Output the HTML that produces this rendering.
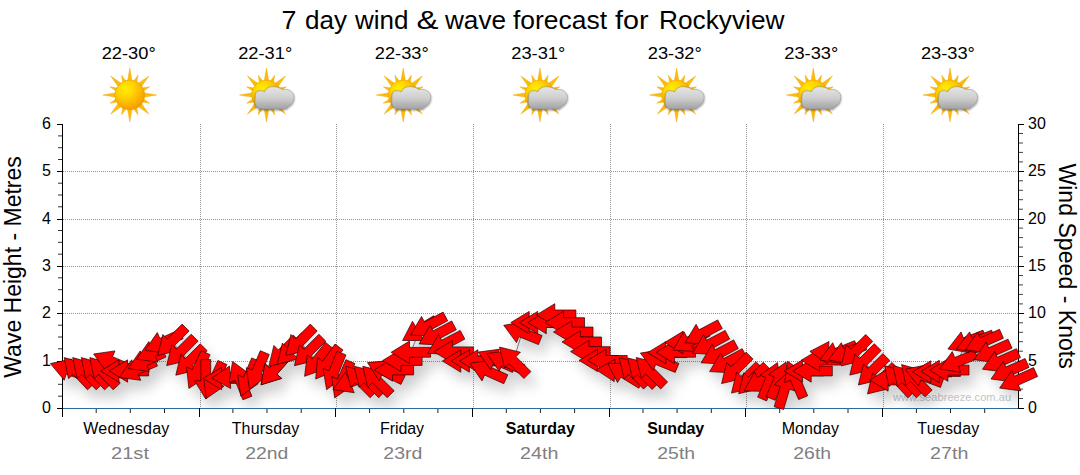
<!DOCTYPE html>
<html><head><meta charset="utf-8"><title>7 day wind &amp; wave forecast for Rockyview</title>
<style>
html,body{margin:0;padding:0;background:#fff;}
body{width:1080px;height:475px;overflow:hidden;position:relative;font-family:"Liberation Sans",sans-serif;}
svg{position:absolute;left:0;top:0;}
text{font-family:"Liberation Sans",sans-serif;}
</style></head><body>
<svg width="1080" height="475" viewBox="0 0 1080 475">
<defs>
<radialGradient id="sunG" cx="0.36" cy="0.30" r="0.72"><stop offset="0" stop-color="#fff000"/><stop offset="0.4" stop-color="#ffd200"/><stop offset="1" stop-color="#f89a00"/></radialGradient>
<linearGradient id="cloudG" x1="0" y1="0" x2="0" y2="1"><stop offset="0" stop-color="#e6e6e6"/><stop offset="0.5" stop-color="#cfcfcf"/><stop offset="1" stop-color="#a2a2a2"/></linearGradient>
<filter id="sh" x="-5%" y="-20%" width="110%" height="160%"><feGaussianBlur in="SourceAlpha" stdDeviation="6.5"/><feOffset dx="6" dy="10" result="b"/><feComponentTransfer><feFuncA type="linear" slope="0.2"/></feComponentTransfer></filter>
<filter id="csh" x="-20%" y="-20%" width="140%" height="160%"><feGaussianBlur in="SourceAlpha" stdDeviation="0.8"/><feOffset dx="0" dy="1"/><feComponentTransfer><feFuncA type="linear" slope="0.5"/></feComponentTransfer><feMerge><feMergeNode/><feMergeNode in="SourceGraphic"/></feMerge></filter>
<g id="sun"><path d="M-2.61 -12.23L0.00 -27.00L2.61 -12.23ZM2.64 -12.22L8.23 -19.86L6.77 -10.51ZM6.80 -10.49L19.09 -19.09L10.49 -6.80ZM10.51 -6.77L19.86 -8.23L12.22 -2.64ZM12.23 -2.61L27.00 0.00L12.23 2.61ZM12.22 2.64L19.86 8.23L10.51 6.77ZM10.49 6.80L19.09 19.09L6.80 10.49ZM6.77 10.51L8.23 19.86L2.64 12.22ZM2.61 12.23L0.00 27.00L-2.61 12.23ZM-2.64 12.22L-8.23 19.86L-6.77 10.51ZM-6.80 10.49L-19.09 19.09L-10.49 6.80ZM-10.51 6.77L-19.86 8.23L-12.22 2.64ZM-12.23 2.61L-27.00 0.00L-12.23 -2.61ZM-12.22 -2.64L-19.86 -8.23L-10.51 -6.77ZM-10.49 -6.80L-19.09 -19.09L-6.80 -10.49ZM-6.77 -10.51L-8.23 -19.86L-2.64 -12.22Z" fill="#fbbd0a"/><path d="M-2.61 -12.23L0.00 -27.00L2.61 -12.23ZM2.64 -12.22L8.23 -19.86L6.77 -10.51ZM6.80 -10.49L19.09 -19.09L10.49 -6.80ZM10.51 -6.77L19.86 -8.23L12.22 -2.64ZM12.23 -2.61L27.00 0.00L12.23 2.61ZM12.22 2.64L19.86 8.23L10.51 6.77ZM10.49 6.80L19.09 19.09L6.80 10.49ZM6.77 10.51L8.23 19.86L2.64 12.22ZM2.61 12.23L0.00 27.00L-2.61 12.23ZM-2.64 12.22L-8.23 19.86L-6.77 10.51ZM-6.80 10.49L-19.09 19.09L-10.49 6.80ZM-10.51 6.77L-19.86 8.23L-12.22 2.64ZM-12.23 2.61L-27.00 0.00L-12.23 -2.61ZM-12.22 -2.64L-19.86 -8.23L-10.51 -6.77ZM-10.49 -6.80L-19.09 -19.09L-6.80 -10.49ZM-6.77 -10.51L-8.23 -19.86L-2.64 -12.22Z" fill="none" stroke="#eda200" stroke-width="0.5" opacity="0.8"/><circle r="14.9" fill="url(#sunG)" stroke="#e89400" stroke-width="0.7" stroke-opacity="0.65"/></g>
<g id="cloud" filter="url(#csh)"><path d="M-11.8 11 C-15 11 -17.3 9.8 -18.3 7.5 C-19.2 5.5 -19.2 3.5 -19 1.7 L-18.8 -3 C-18.6 -5.8 -16.5 -7.4 -13.9 -7.3 C-12.2 -7.3 -10.8 -6.9 -9.8 -6.1 C-8.2 -9.3 -5 -11.4 -1.6 -11.3 C2.5 -11.3 6 -10.2 8 -8.4 C10.5 -9 13.3 -8.7 15.5 -7.6 C18.3 -6.2 20 -3.8 19.9 -1.1 C19.9 1.5 19.3 3.6 18.25 5.1 C17.5 6.4 16.3 7.3 14.8 7.8 C14 9.2 12.8 10.3 11.4 10.6 C10.5 10.9 9.5 11 8.5 11 Z" fill="url(#cloudG)" stroke="#8c8c8c" stroke-width="0.5"/></g>
<clipPath id="plotclip"><rect x="63" y="124" width="955" height="284"/></clipPath>
</defs>
<path d="M63 361.5H1018M63 313.5H1018M63 266.5H1018M63 219.5H1018M63 171.5H1018M200.5 124V408M336.5 124V408M473.5 124V408M610.5 124V408M746.5 124V408M883.5 124V408" stroke="#949494" stroke-width="1" stroke-dasharray="1 1" fill="none" shape-rendering="crispEdges"/>
<path d="M62 408.5H1019" stroke="#2f6b9a" stroke-width="1.1" fill="none"/>
<path d="M62.5 124V417M57 408.5H63M57 361.5H63M57 313.5H63M57 266.5H63M57 219.5H63M57 171.5H63M57 124.5H63" stroke="#000" stroke-width="1" fill="none"/>
<path d="M58 396.2H62M58 384.3H62M58 372.5H62M58 348.8H62M58 337.0H62M58 325.2H62M58 301.5H62M58 289.7H62M58 277.8H62M58 254.2H62M58 242.3H62M58 230.5H62M58 206.8H62M58 195.0H62M58 183.2H62M58 159.5H62M58 147.7H62M58 135.9H62" stroke="#333" stroke-width="1" fill="none"/>
<path d="M1018.5 124V409M1018 408.5H1024M1018 361.5H1024M1018 313.5H1024M1018 266.5H1024M1018 219.5H1024M1018 171.5H1024M1018 124.5H1024" stroke="#000" stroke-width="1" fill="none"/>
<path d="M1019 398.5H1023M1019 389.1H1023M1019 379.6H1023M1019 370.1H1023M1019 351.2H1023M1019 341.7H1023M1019 332.3H1023M1019 322.8H1023M1019 303.9H1023M1019 294.4H1023M1019 284.9H1023M1019 275.5H1023M1019 256.5H1023M1019 247.1H1023M1019 237.6H1023M1019 228.1H1023M1019 209.2H1023M1019 199.7H1023M1019 190.3H1023M1019 180.8H1023M1019 161.9H1023M1019 152.4H1023M1019 143.0H1023M1019 133.5H1023" stroke="#444" stroke-width="1" fill="none"/>
<path d="M199.5 408V417M335.5 408V417M472.5 408V417M609.5 408V417M745.5 408V417M882.5 408V417" stroke="#000" stroke-width="1" fill="none"/>
<path d="M96.2 409V413M130.3 409V413M164.5 409V413M232.9 409V413M267.0 409V413M301.2 409V413M369.6 409V413M403.8 409V413M437.9 409V413M506.3 409V413M540.4 409V413M574.6 409V413M643.0 409V413M677.1 409V413M711.3 409V413M779.7 409V413M813.8 409V413M848.0 409V413M916.4 409V413M950.5 409V413M984.7 409V413" stroke="#222" stroke-width="1" fill="none"/>
<text x="893" y="400.5" font-size="11" fill="#c4c4c4" textLength="118" lengthAdjust="spacing">www.seabreeze.com.au</text>
<g clip-path="url(#plotclip)"><g filter="url(#sh)"><polygon points="50.4,363.6 64.2,380.2 66.2,374.2 86.2,381.1 89.4,371.8 69.4,364.9 71.5,359.0"/><polygon points="64.2,357.6 68.5,378.7 73.1,374.4 87.5,389.8 94.7,383.1 80.3,367.7 84.9,363.4"/><polygon points="72.7,357.6 77.1,378.7 81.7,374.4 96.1,389.8 103.2,383.1 88.9,367.7 93.5,363.4"/><polygon points="81.3,357.6 85.6,378.7 90.2,374.4 104.6,389.8 111.8,383.1 97.4,367.7 102.0,363.4"/><polygon points="89.8,357.6 94.2,378.7 98.8,374.4 113.2,389.8 120.3,383.1 105.9,367.7 110.6,363.4"/><polygon points="93.6,354.0 106.2,371.5 108.7,365.7 128.1,373.9 131.9,364.9 112.5,356.7 115.0,350.9"/><polygon points="100.6,371.0 119.0,382.2 119.0,375.9 140.1,375.9 140.1,366.1 119.0,366.1 119.0,359.8"/><polygon points="109.2,371.0 127.6,382.2 127.6,375.9 148.7,375.9 148.7,366.1 127.6,366.1 127.6,359.8"/><polygon points="119.4,377.5 140.8,380.3 138.2,374.5 157.5,365.9 153.5,357.0 134.2,365.6 131.7,359.8"/><polygon points="128.0,368.6 149.3,371.4 146.8,365.6 166.0,357.0 162.0,348.1 142.8,356.7 140.2,350.9"/><polygon points="136.5,359.3 157.9,362.1 155.3,356.3 174.6,347.7 170.6,338.8 151.3,347.4 148.8,341.6"/><polygon points="145.0,350.3 166.4,353.1 163.8,347.3 183.1,338.7 179.1,329.8 159.9,338.4 157.3,332.6"/><polygon points="157.7,355.5 178.6,350.4 174.2,345.9 189.1,331.0 182.1,324.1 167.2,339.0 162.8,334.5"/><polygon points="166.7,365.6 187.7,360.5 183.2,356.0 198.1,341.1 191.2,334.2 176.3,349.1 171.8,344.6"/><polygon points="175.8,375.2 196.7,370.1 192.2,365.6 207.2,350.7 200.2,343.8 185.3,358.7 180.9,354.2"/><polygon points="188.9,388.4 206.9,376.5 201.2,373.8 210.1,354.7 201.2,350.5 192.3,369.7 186.6,367.0"/><polygon points="205.8,399.1 217.0,380.8 210.7,380.8 210.7,359.6 200.9,359.6 200.9,380.8 194.6,380.8"/><polygon points="206.3,398.5 224.0,386.3 218.3,383.7 226.9,364.5 217.9,360.5 209.3,379.7 203.6,377.2"/><polygon points="203.2,378.5 221.6,389.7 221.6,383.4 242.7,383.4 242.7,373.6 221.6,373.6 221.6,367.3"/><polygon points="211.7,378.2 230.7,388.5 230.4,382.2 251.4,381.1 250.9,371.3 229.8,372.4 229.5,366.1"/><polygon points="232.6,361.4 229.1,382.6 235.0,380.3 242.9,399.8 251.9,396.2 244.0,376.6 249.9,374.3"/><polygon points="240.8,396.2 258.3,383.6 252.5,381.2 260.8,361.7 251.7,357.9 243.5,377.3 237.7,374.9"/><polygon points="249.4,389.0 266.9,376.4 261.1,374.0 269.3,354.5 260.3,350.7 252.1,370.1 246.3,367.7"/><polygon points="261.0,384.8 281.6,378.4 276.9,374.3 290.9,358.5 283.6,352.0 269.6,367.8 264.9,363.6"/><polygon points="261.1,384.8 281.7,378.4 276.9,374.3 291.0,358.5 283.6,352.0 269.6,367.8 264.9,363.6"/><polygon points="268.8,366.4 289.7,361.3 285.2,356.8 300.2,341.9 293.2,335.0 278.3,349.9 273.9,345.4"/><polygon points="277.3,364.1 298.2,359.0 293.8,354.5 308.7,339.6 301.8,332.7 286.9,347.6 282.4,343.1"/><polygon points="285.8,355.5 306.8,350.4 302.3,345.9 317.2,331.0 310.3,324.1 295.4,339.0 290.9,334.5"/><polygon points="294.4,365.7 315.3,360.6 310.9,356.1 325.8,341.2 318.9,334.3 303.9,349.2 299.5,344.7"/><polygon points="304.6,376.3 324.8,368.9 319.9,365.0 333.0,348.4 325.4,342.3 312.2,358.9 307.3,354.9"/><polygon points="315.7,379.0 335.6,370.7 330.5,367.0 342.9,349.9 335.0,344.1 322.6,361.2 317.5,357.5"/><polygon points="326.6,389.7 343.9,376.8 338.0,374.5 345.9,354.9 336.9,351.3 329.0,370.8 323.1,368.5"/><polygon points="334.7,397.9 352.3,385.5 346.5,383.0 354.9,363.6 345.9,359.7 337.5,379.1 331.7,376.6"/><polygon points="332.9,389.6 354.2,392.7 351.8,386.9 371.2,378.7 367.4,369.7 347.9,377.9 345.5,372.1"/><polygon points="345.7,366.3 350.8,387.3 355.2,382.8 370.1,397.7 377.1,390.8 362.1,375.9 366.6,371.4"/><polygon points="354.2,366.3 359.3,387.3 363.8,382.8 378.7,397.7 385.6,390.8 370.7,375.9 375.1,371.4"/><polygon points="362.8,366.3 367.8,387.3 372.3,382.8 387.2,397.7 394.2,390.8 379.2,375.9 383.7,371.4"/><polygon points="367.5,362.6 379.1,380.8 381.9,375.1 400.9,384.4 405.2,375.6 386.2,366.3 389.0,360.6"/><polygon points="374.1,370.0 392.5,381.2 392.5,374.9 413.6,374.9 413.6,365.1 392.5,365.1 392.5,358.8"/><polygon points="382.6,360.5 401.0,371.7 401.0,365.4 422.1,365.4 422.1,355.6 401.0,355.6 401.0,349.3"/><polygon points="391.1,352.3 409.5,363.5 409.5,357.2 430.6,357.2 430.6,347.4 409.5,347.4 409.5,341.1"/><polygon points="402.6,340.5 424.1,340.5 420.8,335.1 438.9,324.1 433.7,315.7 415.7,326.7 412.5,321.3"/><polygon points="410.6,335.0 432.1,336.2 429.1,330.7 447.7,320.8 443.1,312.1 424.5,322.0 421.5,316.4"/><polygon points="419.1,343.9 440.6,345.1 437.6,339.6 456.3,329.7 451.7,321.0 433.0,330.9 430.1,325.3"/><polygon points="427.6,353.3 449.1,354.5 446.2,349.0 464.8,339.1 460.2,330.4 441.6,340.3 438.6,334.7"/><polygon points="433.9,351.8 452.3,363.0 452.3,356.7 473.4,356.7 473.4,346.9 452.3,346.9 452.3,340.6"/><polygon points="442.4,361.0 460.8,372.2 460.8,365.9 481.9,365.9 481.9,356.1 460.8,356.1 460.8,349.8"/><polygon points="451.0,361.0 469.4,372.2 469.4,365.9 490.5,365.9 490.5,356.1 469.4,356.1 469.4,349.8"/><polygon points="459.5,361.0 477.9,372.2 477.9,365.9 499.0,365.9 499.0,356.1 477.9,356.1 477.9,349.8"/><polygon points="469.8,363.2 482.0,380.9 484.6,375.1 503.8,383.7 507.8,374.8 488.6,366.2 491.1,360.4"/><polygon points="478.2,352.1 490.6,369.7 493.2,364.0 512.5,372.4 516.4,363.4 497.1,355.0 499.6,349.2"/><polygon points="486.8,353.6 499.2,371.2 501.7,365.5 521.0,373.9 525.0,364.9 505.6,356.5 508.1,350.7"/><polygon points="499.5,347.1 504.6,368.1 509.0,363.6 523.9,378.5 530.9,371.6 516.0,356.7 520.4,352.2"/><polygon points="503.7,325.3 516.5,342.6 518.9,336.7 538.5,344.6 542.1,335.6 522.6,327.7 524.9,321.8"/><polygon points="510.8,322.6 529.2,333.8 529.2,327.5 550.3,327.5 550.3,317.7 529.2,317.7 529.2,311.4"/><polygon points="519.3,322.6 537.7,333.8 537.7,327.5 558.8,327.5 558.8,317.7 537.7,317.7 537.7,311.4"/><polygon points="527.9,322.6 546.3,333.8 546.3,327.5 567.4,327.5 567.4,317.7 546.3,317.7 546.3,311.4"/><polygon points="536.4,314.9 554.8,326.1 554.8,319.8 575.9,319.8 575.9,310.0 554.8,310.0 554.8,303.7"/><polygon points="545.0,322.6 563.4,333.8 563.4,327.5 584.5,327.5 584.5,317.7 563.4,317.7 563.4,311.4"/><polygon points="553.5,332.0 571.9,343.2 571.9,336.9 593.0,336.9 593.0,327.1 571.9,327.1 571.9,320.8"/><polygon points="562.0,341.9 580.4,353.1 580.4,346.8 601.5,346.8 601.5,337.0 580.4,337.0 580.4,330.7"/><polygon points="570.6,351.6 589.0,362.8 589.0,356.5 610.1,356.5 610.1,346.7 589.0,346.7 589.0,340.4"/><polygon points="579.1,360.4 597.5,371.6 597.5,365.3 618.6,365.3 618.6,355.5 597.5,355.5 597.5,349.2"/><polygon points="587.7,360.4 606.1,371.6 606.1,365.3 627.2,365.3 627.2,355.5 606.1,355.5 606.1,349.2"/><polygon points="596.2,369.8 614.2,381.6 614.5,375.3 635.5,376.1 635.9,366.3 614.8,365.6 615.0,359.3"/><polygon points="607.7,363.4 617.5,382.5 620.8,377.2 638.8,388.2 643.9,379.9 625.9,368.8 629.2,363.5"/><polygon points="619.1,357.7 624.2,378.7 628.7,374.2 643.6,389.1 650.5,382.2 635.6,367.3 640.0,362.8"/><polygon points="627.7,358.0 632.7,379.0 637.2,374.5 652.1,389.4 659.1,382.5 644.1,367.6 648.6,363.1"/><polygon points="636.2,357.5 641.3,378.5 645.7,374.0 660.7,388.9 667.6,382.0 652.7,367.1 657.1,362.6"/><polygon points="640.4,353.1 653.3,370.4 655.6,364.5 675.2,372.4 678.9,363.4 659.3,355.5 661.7,349.6"/><polygon points="647.5,352.7 665.9,363.9 665.9,357.6 687.0,357.6 687.0,347.8 665.9,347.8 665.9,341.5"/><polygon points="656.0,352.3 674.4,363.5 674.4,357.2 695.5,357.2 695.5,347.4 674.4,347.4 674.4,341.1"/><polygon points="664.6,342.5 683.0,353.7 683.0,347.4 704.1,347.4 704.1,337.6 683.0,337.6 683.0,331.3"/><polygon points="672.9,350.2 694.4,351.4 691.5,345.9 710.1,336.0 705.5,327.3 686.9,337.2 683.9,331.6"/><polygon points="685.1,342.8 706.6,344.0 703.6,338.5 722.3,328.6 717.7,319.9 699.0,329.8 696.1,324.2"/><polygon points="692.5,353.3 714.0,354.5 711.1,349.0 729.7,339.1 725.1,330.4 706.5,340.3 703.5,334.7"/><polygon points="701.1,362.8 722.6,364.0 719.6,358.5 738.3,348.6 733.7,339.9 715.0,349.8 712.1,344.2"/><polygon points="709.6,371.6 731.1,372.8 728.2,367.3 746.8,357.4 742.2,348.7 723.6,358.6 720.6,353.0"/><polygon points="721.6,383.6 742.6,378.5 738.1,374.0 753.0,359.1 746.1,352.2 731.2,367.1 726.7,362.6"/><polygon points="731.5,393.1 752.4,388.0 748.0,383.5 762.9,368.6 756.0,361.7 741.0,376.6 736.6,372.1"/><polygon points="738.7,393.7 759.7,388.6 755.2,384.1 770.1,369.2 763.2,362.3 748.3,377.2 743.8,372.7"/><polygon points="744.1,390.9 765.7,391.4 762.5,385.9 780.8,375.4 775.9,366.9 757.6,377.4 754.5,372.0"/><polygon points="777.5,362.6 760.0,375.2 765.8,377.6 757.6,397.1 766.6,400.9 774.8,381.5 780.6,383.9"/><polygon points="786.1,362.0 768.6,374.6 774.4,377.0 766.1,396.5 775.1,400.3 783.4,380.9 789.2,383.3"/><polygon points="790.1,370.3 774.1,384.7 780.2,386.5 774.2,406.7 783.6,409.5 789.6,389.3 795.6,391.1"/><polygon points="787.7,361.3 784.6,382.6 790.4,380.2 798.6,399.6 807.7,395.8 799.4,376.3 805.2,373.9"/><polygon points="784.2,371.0 802.6,382.2 802.6,375.9 823.7,375.9 823.7,366.1 802.6,366.1 802.6,359.8"/><polygon points="792.8,371.0 811.2,382.2 811.2,375.9 832.3,375.9 832.3,366.1 811.2,366.1 811.2,359.8"/><polygon points="801.3,360.2 819.7,371.4 819.7,365.1 840.8,365.1 840.8,355.3 819.7,355.3 819.7,349.0"/><polygon points="809.9,351.4 827.5,363.9 827.9,357.6 849.0,359.1 849.7,349.3 828.6,347.8 829.0,341.5"/><polygon points="819.8,360.0 841.1,363.5 838.7,357.6 858.3,349.7 854.6,340.7 835.1,348.6 832.7,342.7"/><polygon points="828.4,360.0 849.6,363.5 847.3,357.6 866.8,349.7 863.2,340.7 843.6,348.6 841.3,342.7"/><polygon points="841.3,365.9 862.2,360.8 857.8,356.3 872.7,341.4 865.7,334.5 850.8,349.4 846.4,344.9"/><polygon points="849.8,375.1 870.7,370.0 866.3,365.5 881.2,350.6 874.3,343.7 859.4,358.6 854.9,354.1"/><polygon points="858.4,385.0 879.3,379.9 874.8,375.4 889.8,360.5 882.8,353.6 867.9,368.5 863.5,364.0"/><polygon points="867.5,393.9 888.4,388.8 884.0,384.3 898.9,369.4 892.0,362.5 877.1,377.4 872.6,372.9"/><polygon points="869.7,380.0 888.1,391.2 888.1,384.9 909.2,384.9 909.2,375.1 888.1,375.1 888.1,368.8"/><polygon points="884.5,365.6 888.9,386.7 893.5,382.4 907.9,397.8 915.0,391.1 900.6,375.7 905.2,371.4"/><polygon points="893.0,365.6 897.4,386.7 902.0,382.4 916.4,397.8 923.6,391.1 909.2,375.7 913.8,371.4"/><polygon points="901.6,364.6 905.9,385.7 910.6,381.4 924.9,396.8 932.1,390.1 917.7,374.7 922.3,370.4"/><polygon points="905.0,369.2 918.5,386.1 920.7,380.1 940.5,387.4 943.8,378.2 924.0,370.9 926.2,365.0"/><polygon points="912.4,372.0 930.8,383.2 930.8,376.9 951.9,376.9 951.9,367.1 930.8,367.1 930.8,360.8"/><polygon points="920.9,371.5 939.3,382.7 939.3,376.4 960.4,376.4 960.4,366.6 939.3,366.6 939.3,360.3"/><polygon points="929.5,370.1 947.9,381.3 947.9,375.0 969.0,375.0 969.0,365.2 947.9,365.2 947.9,358.9"/><polygon points="939.5,368.9 960.7,372.4 958.4,366.5 977.9,358.6 974.3,349.6 954.7,357.5 952.3,351.6"/><polygon points="947.9,349.0 969.1,352.8 966.8,347.0 986.5,339.4 983.0,330.2 963.3,337.8 961.1,331.9"/><polygon points="956.4,349.0 977.6,352.8 975.4,347.0 995.1,339.4 991.6,330.2 971.9,337.8 969.6,331.9"/><polygon points="965.4,349.8 986.7,352.6 984.2,346.8 1003.4,338.2 999.5,329.3 980.2,337.9 977.6,332.1"/><polygon points="973.9,359.7 995.3,362.5 992.7,356.7 1012.0,348.1 1008.0,339.2 988.7,347.8 986.2,342.0"/><polygon points="982.5,369.2 1003.8,372.0 1001.3,366.2 1020.5,357.6 1016.5,348.7 997.3,357.3 994.7,351.5"/><polygon points="991.0,379.0 1012.4,381.8 1009.8,376.0 1029.1,367.4 1025.1,358.5 1005.8,367.1 1003.3,361.3"/><polygon points="999.6,388.1 1020.9,390.9 1018.4,385.1 1037.6,376.5 1033.6,367.6 1014.4,376.2 1011.8,370.4"/></g></g>
<path d="M69.1 370.0L77.6 372.0L86.2 372.0L94.7 372.0L103.3 372.0L111.8 361.7L120.4 371.0L128.9 371.0L137.5 369.5L146.0 360.6L154.6 351.3L163.1 342.3L171.6 341.5L180.7 351.6L189.7 361.2L197.3 370.5L205.8 379.4L214.4 380.5L222.9 378.5L231.4 377.2L240.0 379.7L248.5 378.0L257.1 370.8L274.1 370.0L274.2 370.0L282.7 352.4L291.3 350.1L299.8 341.5L308.4 351.7L316.9 360.9L327.4 363.0L334.0 371.4L342.5 379.8L351.1 381.9L359.6 380.3L368.2 380.3L376.7 380.3L385.3 371.3L393.8 370.0L402.4 360.5L410.9 352.3L419.4 330.2L428.0 325.7L436.5 334.6L445.1 344.0L453.6 351.8L462.2 361.0L470.7 361.0L479.3 361.0L487.8 371.2L496.4 360.0L504.9 361.5L513.4 361.1L522.0 332.7L530.5 322.6L539.1 322.6L547.6 322.6L556.2 314.9L564.7 322.6L573.2 332.0L581.8 341.9L590.4 351.6L598.9 360.4L607.4 360.4L616.0 370.5L624.5 373.7L633.1 371.7L641.6 372.0L650.2 371.5L658.7 360.5L667.2 352.7L675.8 352.3L684.3 342.5L690.4 340.9L702.5 333.5L710.0 344.0L718.5 353.5L727.1 362.3L735.6 369.6L745.5 379.1L752.7 379.7L761.2 381.0L769.8 380.8L778.3 380.2L784.5 389.2L795.4 379.5L804.0 371.0L812.5 371.0L821.1 360.2L829.6 352.8L838.1 352.6L846.7 352.6L855.2 351.9L863.8 361.1L872.3 371.0L881.5 379.9L889.4 380.0L898.0 380.0L906.5 380.0L915.1 379.0L923.6 376.0L932.1 372.0L940.7 371.5L949.2 370.1L957.8 361.5L966.3 341.9L974.9 341.9L983.4 341.8L992.0 351.7L1000.5 361.2L1009.0 371.0L1017.6 380.1" stroke="#777" stroke-width="1" fill="none"/>
<g fill="#ff0000" stroke="#2a0000" stroke-width="0.7" stroke-linejoin="miter"><polygon points="50.4,363.6 64.2,380.2 66.2,374.2 86.2,381.1 89.4,371.8 69.4,364.9 71.5,359.0"/><polygon points="64.2,357.6 68.5,378.7 73.1,374.4 87.5,389.8 94.7,383.1 80.3,367.7 84.9,363.4"/><polygon points="72.7,357.6 77.1,378.7 81.7,374.4 96.1,389.8 103.2,383.1 88.9,367.7 93.5,363.4"/><polygon points="81.3,357.6 85.6,378.7 90.2,374.4 104.6,389.8 111.8,383.1 97.4,367.7 102.0,363.4"/><polygon points="89.8,357.6 94.2,378.7 98.8,374.4 113.2,389.8 120.3,383.1 105.9,367.7 110.6,363.4"/><polygon points="93.6,354.0 106.2,371.5 108.7,365.7 128.1,373.9 131.9,364.9 112.5,356.7 115.0,350.9"/><polygon points="100.6,371.0 119.0,382.2 119.0,375.9 140.1,375.9 140.1,366.1 119.0,366.1 119.0,359.8"/><polygon points="109.2,371.0 127.6,382.2 127.6,375.9 148.7,375.9 148.7,366.1 127.6,366.1 127.6,359.8"/><polygon points="119.4,377.5 140.8,380.3 138.2,374.5 157.5,365.9 153.5,357.0 134.2,365.6 131.7,359.8"/><polygon points="128.0,368.6 149.3,371.4 146.8,365.6 166.0,357.0 162.0,348.1 142.8,356.7 140.2,350.9"/><polygon points="136.5,359.3 157.9,362.1 155.3,356.3 174.6,347.7 170.6,338.8 151.3,347.4 148.8,341.6"/><polygon points="145.0,350.3 166.4,353.1 163.8,347.3 183.1,338.7 179.1,329.8 159.9,338.4 157.3,332.6"/><polygon points="157.7,355.5 178.6,350.4 174.2,345.9 189.1,331.0 182.1,324.1 167.2,339.0 162.8,334.5"/><polygon points="166.7,365.6 187.7,360.5 183.2,356.0 198.1,341.1 191.2,334.2 176.3,349.1 171.8,344.6"/><polygon points="175.8,375.2 196.7,370.1 192.2,365.6 207.2,350.7 200.2,343.8 185.3,358.7 180.9,354.2"/><polygon points="188.9,388.4 206.9,376.5 201.2,373.8 210.1,354.7 201.2,350.5 192.3,369.7 186.6,367.0"/><polygon points="205.8,399.1 217.0,380.8 210.7,380.8 210.7,359.6 200.9,359.6 200.9,380.8 194.6,380.8"/><polygon points="206.3,398.5 224.0,386.3 218.3,383.7 226.9,364.5 217.9,360.5 209.3,379.7 203.6,377.2"/><polygon points="203.2,378.5 221.6,389.7 221.6,383.4 242.7,383.4 242.7,373.6 221.6,373.6 221.6,367.3"/><polygon points="211.7,378.2 230.7,388.5 230.4,382.2 251.4,381.1 250.9,371.3 229.8,372.4 229.5,366.1"/><polygon points="232.6,361.4 229.1,382.6 235.0,380.3 242.9,399.8 251.9,396.2 244.0,376.6 249.9,374.3"/><polygon points="240.8,396.2 258.3,383.6 252.5,381.2 260.8,361.7 251.7,357.9 243.5,377.3 237.7,374.9"/><polygon points="249.4,389.0 266.9,376.4 261.1,374.0 269.3,354.5 260.3,350.7 252.1,370.1 246.3,367.7"/><polygon points="261.0,384.8 281.6,378.4 276.9,374.3 290.9,358.5 283.6,352.0 269.6,367.8 264.9,363.6"/><polygon points="261.1,384.8 281.7,378.4 276.9,374.3 291.0,358.5 283.6,352.0 269.6,367.8 264.9,363.6"/><polygon points="268.8,366.4 289.7,361.3 285.2,356.8 300.2,341.9 293.2,335.0 278.3,349.9 273.9,345.4"/><polygon points="277.3,364.1 298.2,359.0 293.8,354.5 308.7,339.6 301.8,332.7 286.9,347.6 282.4,343.1"/><polygon points="285.8,355.5 306.8,350.4 302.3,345.9 317.2,331.0 310.3,324.1 295.4,339.0 290.9,334.5"/><polygon points="294.4,365.7 315.3,360.6 310.9,356.1 325.8,341.2 318.9,334.3 303.9,349.2 299.5,344.7"/><polygon points="304.6,376.3 324.8,368.9 319.9,365.0 333.0,348.4 325.4,342.3 312.2,358.9 307.3,354.9"/><polygon points="315.7,379.0 335.6,370.7 330.5,367.0 342.9,349.9 335.0,344.1 322.6,361.2 317.5,357.5"/><polygon points="326.6,389.7 343.9,376.8 338.0,374.5 345.9,354.9 336.9,351.3 329.0,370.8 323.1,368.5"/><polygon points="334.7,397.9 352.3,385.5 346.5,383.0 354.9,363.6 345.9,359.7 337.5,379.1 331.7,376.6"/><polygon points="332.9,389.6 354.2,392.7 351.8,386.9 371.2,378.7 367.4,369.7 347.9,377.9 345.5,372.1"/><polygon points="345.7,366.3 350.8,387.3 355.2,382.8 370.1,397.7 377.1,390.8 362.1,375.9 366.6,371.4"/><polygon points="354.2,366.3 359.3,387.3 363.8,382.8 378.7,397.7 385.6,390.8 370.7,375.9 375.1,371.4"/><polygon points="362.8,366.3 367.8,387.3 372.3,382.8 387.2,397.7 394.2,390.8 379.2,375.9 383.7,371.4"/><polygon points="367.5,362.6 379.1,380.8 381.9,375.1 400.9,384.4 405.2,375.6 386.2,366.3 389.0,360.6"/><polygon points="374.1,370.0 392.5,381.2 392.5,374.9 413.6,374.9 413.6,365.1 392.5,365.1 392.5,358.8"/><polygon points="382.6,360.5 401.0,371.7 401.0,365.4 422.1,365.4 422.1,355.6 401.0,355.6 401.0,349.3"/><polygon points="391.1,352.3 409.5,363.5 409.5,357.2 430.6,357.2 430.6,347.4 409.5,347.4 409.5,341.1"/><polygon points="402.6,340.5 424.1,340.5 420.8,335.1 438.9,324.1 433.7,315.7 415.7,326.7 412.5,321.3"/><polygon points="410.6,335.0 432.1,336.2 429.1,330.7 447.7,320.8 443.1,312.1 424.5,322.0 421.5,316.4"/><polygon points="419.1,343.9 440.6,345.1 437.6,339.6 456.3,329.7 451.7,321.0 433.0,330.9 430.1,325.3"/><polygon points="427.6,353.3 449.1,354.5 446.2,349.0 464.8,339.1 460.2,330.4 441.6,340.3 438.6,334.7"/><polygon points="433.9,351.8 452.3,363.0 452.3,356.7 473.4,356.7 473.4,346.9 452.3,346.9 452.3,340.6"/><polygon points="442.4,361.0 460.8,372.2 460.8,365.9 481.9,365.9 481.9,356.1 460.8,356.1 460.8,349.8"/><polygon points="451.0,361.0 469.4,372.2 469.4,365.9 490.5,365.9 490.5,356.1 469.4,356.1 469.4,349.8"/><polygon points="459.5,361.0 477.9,372.2 477.9,365.9 499.0,365.9 499.0,356.1 477.9,356.1 477.9,349.8"/><polygon points="469.8,363.2 482.0,380.9 484.6,375.1 503.8,383.7 507.8,374.8 488.6,366.2 491.1,360.4"/><polygon points="478.2,352.1 490.6,369.7 493.2,364.0 512.5,372.4 516.4,363.4 497.1,355.0 499.6,349.2"/><polygon points="486.8,353.6 499.2,371.2 501.7,365.5 521.0,373.9 525.0,364.9 505.6,356.5 508.1,350.7"/><polygon points="499.5,347.1 504.6,368.1 509.0,363.6 523.9,378.5 530.9,371.6 516.0,356.7 520.4,352.2"/><polygon points="503.7,325.3 516.5,342.6 518.9,336.7 538.5,344.6 542.1,335.6 522.6,327.7 524.9,321.8"/><polygon points="510.8,322.6 529.2,333.8 529.2,327.5 550.3,327.5 550.3,317.7 529.2,317.7 529.2,311.4"/><polygon points="519.3,322.6 537.7,333.8 537.7,327.5 558.8,327.5 558.8,317.7 537.7,317.7 537.7,311.4"/><polygon points="527.9,322.6 546.3,333.8 546.3,327.5 567.4,327.5 567.4,317.7 546.3,317.7 546.3,311.4"/><polygon points="536.4,314.9 554.8,326.1 554.8,319.8 575.9,319.8 575.9,310.0 554.8,310.0 554.8,303.7"/><polygon points="545.0,322.6 563.4,333.8 563.4,327.5 584.5,327.5 584.5,317.7 563.4,317.7 563.4,311.4"/><polygon points="553.5,332.0 571.9,343.2 571.9,336.9 593.0,336.9 593.0,327.1 571.9,327.1 571.9,320.8"/><polygon points="562.0,341.9 580.4,353.1 580.4,346.8 601.5,346.8 601.5,337.0 580.4,337.0 580.4,330.7"/><polygon points="570.6,351.6 589.0,362.8 589.0,356.5 610.1,356.5 610.1,346.7 589.0,346.7 589.0,340.4"/><polygon points="579.1,360.4 597.5,371.6 597.5,365.3 618.6,365.3 618.6,355.5 597.5,355.5 597.5,349.2"/><polygon points="587.7,360.4 606.1,371.6 606.1,365.3 627.2,365.3 627.2,355.5 606.1,355.5 606.1,349.2"/><polygon points="596.2,369.8 614.2,381.6 614.5,375.3 635.5,376.1 635.9,366.3 614.8,365.6 615.0,359.3"/><polygon points="607.7,363.4 617.5,382.5 620.8,377.2 638.8,388.2 643.9,379.9 625.9,368.8 629.2,363.5"/><polygon points="619.1,357.7 624.2,378.7 628.7,374.2 643.6,389.1 650.5,382.2 635.6,367.3 640.0,362.8"/><polygon points="627.7,358.0 632.7,379.0 637.2,374.5 652.1,389.4 659.1,382.5 644.1,367.6 648.6,363.1"/><polygon points="636.2,357.5 641.3,378.5 645.7,374.0 660.7,388.9 667.6,382.0 652.7,367.1 657.1,362.6"/><polygon points="640.4,353.1 653.3,370.4 655.6,364.5 675.2,372.4 678.9,363.4 659.3,355.5 661.7,349.6"/><polygon points="647.5,352.7 665.9,363.9 665.9,357.6 687.0,357.6 687.0,347.8 665.9,347.8 665.9,341.5"/><polygon points="656.0,352.3 674.4,363.5 674.4,357.2 695.5,357.2 695.5,347.4 674.4,347.4 674.4,341.1"/><polygon points="664.6,342.5 683.0,353.7 683.0,347.4 704.1,347.4 704.1,337.6 683.0,337.6 683.0,331.3"/><polygon points="672.9,350.2 694.4,351.4 691.5,345.9 710.1,336.0 705.5,327.3 686.9,337.2 683.9,331.6"/><polygon points="685.1,342.8 706.6,344.0 703.6,338.5 722.3,328.6 717.7,319.9 699.0,329.8 696.1,324.2"/><polygon points="692.5,353.3 714.0,354.5 711.1,349.0 729.7,339.1 725.1,330.4 706.5,340.3 703.5,334.7"/><polygon points="701.1,362.8 722.6,364.0 719.6,358.5 738.3,348.6 733.7,339.9 715.0,349.8 712.1,344.2"/><polygon points="709.6,371.6 731.1,372.8 728.2,367.3 746.8,357.4 742.2,348.7 723.6,358.6 720.6,353.0"/><polygon points="721.6,383.6 742.6,378.5 738.1,374.0 753.0,359.1 746.1,352.2 731.2,367.1 726.7,362.6"/><polygon points="731.5,393.1 752.4,388.0 748.0,383.5 762.9,368.6 756.0,361.7 741.0,376.6 736.6,372.1"/><polygon points="738.7,393.7 759.7,388.6 755.2,384.1 770.1,369.2 763.2,362.3 748.3,377.2 743.8,372.7"/><polygon points="744.1,390.9 765.7,391.4 762.5,385.9 780.8,375.4 775.9,366.9 757.6,377.4 754.5,372.0"/><polygon points="777.5,362.6 760.0,375.2 765.8,377.6 757.6,397.1 766.6,400.9 774.8,381.5 780.6,383.9"/><polygon points="786.1,362.0 768.6,374.6 774.4,377.0 766.1,396.5 775.1,400.3 783.4,380.9 789.2,383.3"/><polygon points="790.1,370.3 774.1,384.7 780.2,386.5 774.2,406.7 783.6,409.5 789.6,389.3 795.6,391.1"/><polygon points="787.7,361.3 784.6,382.6 790.4,380.2 798.6,399.6 807.7,395.8 799.4,376.3 805.2,373.9"/><polygon points="784.2,371.0 802.6,382.2 802.6,375.9 823.7,375.9 823.7,366.1 802.6,366.1 802.6,359.8"/><polygon points="792.8,371.0 811.2,382.2 811.2,375.9 832.3,375.9 832.3,366.1 811.2,366.1 811.2,359.8"/><polygon points="801.3,360.2 819.7,371.4 819.7,365.1 840.8,365.1 840.8,355.3 819.7,355.3 819.7,349.0"/><polygon points="809.9,351.4 827.5,363.9 827.9,357.6 849.0,359.1 849.7,349.3 828.6,347.8 829.0,341.5"/><polygon points="819.8,360.0 841.1,363.5 838.7,357.6 858.3,349.7 854.6,340.7 835.1,348.6 832.7,342.7"/><polygon points="828.4,360.0 849.6,363.5 847.3,357.6 866.8,349.7 863.2,340.7 843.6,348.6 841.3,342.7"/><polygon points="841.3,365.9 862.2,360.8 857.8,356.3 872.7,341.4 865.7,334.5 850.8,349.4 846.4,344.9"/><polygon points="849.8,375.1 870.7,370.0 866.3,365.5 881.2,350.6 874.3,343.7 859.4,358.6 854.9,354.1"/><polygon points="858.4,385.0 879.3,379.9 874.8,375.4 889.8,360.5 882.8,353.6 867.9,368.5 863.5,364.0"/><polygon points="867.5,393.9 888.4,388.8 884.0,384.3 898.9,369.4 892.0,362.5 877.1,377.4 872.6,372.9"/><polygon points="869.7,380.0 888.1,391.2 888.1,384.9 909.2,384.9 909.2,375.1 888.1,375.1 888.1,368.8"/><polygon points="884.5,365.6 888.9,386.7 893.5,382.4 907.9,397.8 915.0,391.1 900.6,375.7 905.2,371.4"/><polygon points="893.0,365.6 897.4,386.7 902.0,382.4 916.4,397.8 923.6,391.1 909.2,375.7 913.8,371.4"/><polygon points="901.6,364.6 905.9,385.7 910.6,381.4 924.9,396.8 932.1,390.1 917.7,374.7 922.3,370.4"/><polygon points="905.0,369.2 918.5,386.1 920.7,380.1 940.5,387.4 943.8,378.2 924.0,370.9 926.2,365.0"/><polygon points="912.4,372.0 930.8,383.2 930.8,376.9 951.9,376.9 951.9,367.1 930.8,367.1 930.8,360.8"/><polygon points="920.9,371.5 939.3,382.7 939.3,376.4 960.4,376.4 960.4,366.6 939.3,366.6 939.3,360.3"/><polygon points="929.5,370.1 947.9,381.3 947.9,375.0 969.0,375.0 969.0,365.2 947.9,365.2 947.9,358.9"/><polygon points="939.5,368.9 960.7,372.4 958.4,366.5 977.9,358.6 974.3,349.6 954.7,357.5 952.3,351.6"/><polygon points="947.9,349.0 969.1,352.8 966.8,347.0 986.5,339.4 983.0,330.2 963.3,337.8 961.1,331.9"/><polygon points="956.4,349.0 977.6,352.8 975.4,347.0 995.1,339.4 991.6,330.2 971.9,337.8 969.6,331.9"/><polygon points="965.4,349.8 986.7,352.6 984.2,346.8 1003.4,338.2 999.5,329.3 980.2,337.9 977.6,332.1"/><polygon points="973.9,359.7 995.3,362.5 992.7,356.7 1012.0,348.1 1008.0,339.2 988.7,347.8 986.2,342.0"/><polygon points="982.5,369.2 1003.8,372.0 1001.3,366.2 1020.5,357.6 1016.5,348.7 997.3,357.3 994.7,351.5"/><polygon points="991.0,379.0 1012.4,381.8 1009.8,376.0 1029.1,367.4 1025.1,358.5 1005.8,367.1 1003.3,361.3"/><polygon points="999.6,388.1 1020.9,390.9 1018.4,385.1 1037.6,376.5 1033.6,367.6 1014.4,376.2 1011.8,370.4"/></g>
<text x="51" y="413.0" font-size="16" text-anchor="end" fill="#000">0</text>
<text x="1028" y="413.0" font-size="16" text-anchor="start" fill="#000">0</text>
<text x="51" y="365.7" font-size="16" text-anchor="end" fill="#000">1</text>
<text x="1028" y="365.7" font-size="16" text-anchor="start" fill="#000">5</text>
<text x="51" y="318.3" font-size="16" text-anchor="end" fill="#000">2</text>
<text x="1028" y="318.3" font-size="16" text-anchor="start" fill="#000">10</text>
<text x="51" y="271.0" font-size="16" text-anchor="end" fill="#000">3</text>
<text x="1028" y="271.0" font-size="16" text-anchor="start" fill="#000">15</text>
<text x="51" y="223.7" font-size="16" text-anchor="end" fill="#000">4</text>
<text x="1028" y="223.7" font-size="16" text-anchor="start" fill="#000">20</text>
<text x="51" y="176.4" font-size="16" text-anchor="end" fill="#000">5</text>
<text x="1028" y="176.4" font-size="16" text-anchor="start" fill="#000">25</text>
<text x="51" y="129.0" font-size="16" text-anchor="end" fill="#000">6</text>
<text x="1028" y="129.0" font-size="16" text-anchor="start" fill="#000">30</text>
<text transform="translate(20.5 267) rotate(-90)" font-size="23" text-anchor="middle" fill="#000">Wave Height - Metres</text>
<text transform="translate(1058.9 266.1) rotate(90)" font-size="23.1" text-anchor="middle" fill="#000">Wind Speed - Knots</text>
<text x="281.5" y="29" font-size="26.5" fill="#000" textLength="15" lengthAdjust="spacingAndGlyphs">7</text>
<text x="305" y="29" font-size="26.5" fill="#000" textLength="42" lengthAdjust="spacingAndGlyphs">day</text>
<text x="355" y="29" font-size="26.5" fill="#000" textLength="53.5" lengthAdjust="spacingAndGlyphs">wind</text>
<text x="416.5" y="29" font-size="26.5" fill="#000" textLength="22" lengthAdjust="spacingAndGlyphs">&amp;</text>
<text x="445" y="29" font-size="26.5" fill="#000" textLength="61" lengthAdjust="spacingAndGlyphs">wave</text>
<text x="513" y="29" font-size="26.5" fill="#000" textLength="94" lengthAdjust="spacingAndGlyphs">forecast</text>
<text x="615" y="29" font-size="26.5" fill="#000" textLength="33.5" lengthAdjust="spacingAndGlyphs">for</text>
<text x="659" y="29" font-size="26.5" fill="#000" textLength="125.5" lengthAdjust="spacingAndGlyphs">Rockyview</text>
<text x="126.3" y="434.3" font-size="16" text-anchor="middle" fill="#000" textLength="86" lengthAdjust="spacing">Wednesday</text>
<text x="130.0" y="458.6" font-size="17.3" text-anchor="middle" fill="#808080" textLength="38" lengthAdjust="spacingAndGlyphs">21st</text>
<text x="128.7" y="58.8" font-size="16.2" text-anchor="middle" fill="#000" textLength="54" lengthAdjust="spacingAndGlyphs">22-30°</text>
<use href="#sun" x="129.8" y="95"/>
<text x="265.5" y="434.3" font-size="16" text-anchor="middle" fill="#000" textLength="67.6" lengthAdjust="spacing">Thursday</text>
<text x="266.7" y="458.6" font-size="17.3" text-anchor="middle" fill="#808080" textLength="43" lengthAdjust="spacingAndGlyphs">22nd</text>
<text x="265.2" y="58.8" font-size="16.2" text-anchor="middle" fill="#000" textLength="54" lengthAdjust="spacingAndGlyphs">22-31°</text>
<use href="#sun" x="266.5" y="95"/>
<use href="#cloud" x="274.1" y="98"/>
<text x="402.0" y="434.3" font-size="16" text-anchor="middle" fill="#000" textLength="44" lengthAdjust="spacing">Friday</text>
<text x="402.8" y="458.6" font-size="17.3" text-anchor="middle" fill="#808080" textLength="39" lengthAdjust="spacingAndGlyphs">23rd</text>
<text x="401.8" y="58.8" font-size="16.2" text-anchor="middle" fill="#000" textLength="54" lengthAdjust="spacingAndGlyphs">22-33°</text>
<use href="#sun" x="403.2" y="95"/>
<use href="#cloud" x="410.9" y="98"/>
<text x="540.3" y="434.3" font-size="16" text-anchor="middle" fill="#000" font-weight="bold" textLength="69.3" lengthAdjust="spacing">Saturday</text>
<text x="539.2" y="458.6" font-size="17.3" text-anchor="middle" fill="#808080" textLength="38.3" lengthAdjust="spacingAndGlyphs">24th</text>
<text x="538.3" y="58.8" font-size="16.2" text-anchor="middle" fill="#000" textLength="54" lengthAdjust="spacingAndGlyphs">23-31°</text>
<use href="#sun" x="539.9" y="95"/>
<use href="#cloud" x="547.5" y="98"/>
<text x="675.7" y="434.3" font-size="16" text-anchor="middle" fill="#000" font-weight="bold" textLength="56.7" lengthAdjust="spacing">Sunday</text>
<text x="676.2" y="458.6" font-size="17.3" text-anchor="middle" fill="#808080" textLength="37.7" lengthAdjust="spacingAndGlyphs">25th</text>
<text x="674.8" y="58.8" font-size="16.2" text-anchor="middle" fill="#000" textLength="54" lengthAdjust="spacingAndGlyphs">23-32°</text>
<use href="#sun" x="676.6" y="95"/>
<use href="#cloud" x="684.2" y="98"/>
<text x="810.3" y="434.3" font-size="16" text-anchor="middle" fill="#000" textLength="57.3" lengthAdjust="spacing">Monday</text>
<text x="812.2" y="458.6" font-size="17.3" text-anchor="middle" fill="#808080" textLength="37.7" lengthAdjust="spacingAndGlyphs">26th</text>
<text x="811.3" y="58.8" font-size="16.2" text-anchor="middle" fill="#000" textLength="54" lengthAdjust="spacingAndGlyphs">23-33°</text>
<use href="#sun" x="813.3" y="95"/>
<use href="#cloud" x="820.9" y="98"/>
<text x="948.3" y="434.3" font-size="16" text-anchor="middle" fill="#000" textLength="62" lengthAdjust="spacing">Tuesday</text>
<text x="949.2" y="458.6" font-size="17.3" text-anchor="middle" fill="#808080" textLength="38.3" lengthAdjust="spacingAndGlyphs">27th</text>
<text x="947.9" y="58.8" font-size="16.2" text-anchor="middle" fill="#000" textLength="54" lengthAdjust="spacingAndGlyphs">23-33°</text>
<use href="#sun" x="950.0" y="95"/>
<use href="#cloud" x="957.6" y="98"/>
</svg></body></html>
